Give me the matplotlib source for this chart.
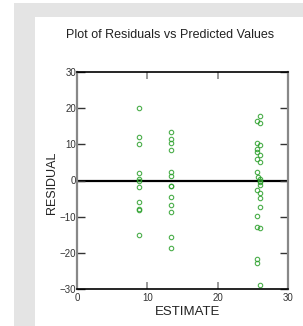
import numpy as np
import matplotlib.pyplot as plt
from matplotlib.patches import Rectangle

# predicted values (ESTIMATE) and residuals
est_a = [8.75] * 11
res_a = [20, 12, 10, 2, 0.3, 0, -1.9, -6, -8, -8.2, -15]

est_b = [13.4] * 13
res_b = [13.5, 11.5, 10.5, 8.5, 2.3, 1.3, -1.5, -1.6, -4.6, -6.7, -8.7, -15.7, -18.7]

est_c = [26.0, 25.6, 26.0, 25.6, 26.0, 25.6, 25.6, 26.0, 25.6, 26.0, 25.6, 25.8, 26.0,
         26.0, 26.0, 26.0, 25.6, 26.0, 26.0, 26.0, 25.6, 25.6, 26.0, 25.6, 25.6, 26.0]
res_c = [17.9, 16.4, 16.0, 10.3, 9.9, 8.7, 8.0, 7.0, 6.0, 5.2, 2.3, 1.0, 0.3,
         -0.2, -0.5, -1.2, -2.6, -3.5, -4.9, -7.2, -9.7, -12.8, -13.1, -21.8, -22.9, -29.0]

x_ticks = [0, 10, 20, 30]
y_ticks = [-30, -20, -10, 0, 10, 20, 30]

plt.rcParams['font.family'] = ['Liberation Sans', 'DejaVu Sans']

fig = plt.figure(figsize=(3.03, 3.26), dpi=100)
fig.patch.set_facecolor('white')

# gray L-shaped frame behind the plot panel
gray = '#e4e4e4'
fig.patches.append(Rectangle((14 / 303, 0), 21 / 303, 1 - 3 / 326, transform=fig.transFigure,
                             facecolor=gray, edgecolor='none', zorder=0))
fig.patches.append(Rectangle((14 / 303, 1 - 17 / 326), 1, 14 / 326, transform=fig.transFigure,
                             facecolor=gray, edgecolor='none', zorder=0))

ax = fig.add_axes([77 / 303, 1 - 289 / 326, 211 / 303, 217 / 326])

est = est_a + est_b + est_c
res = res_a + res_b + res_c
ax.plot(est, res, 'o', markerfacecolor='none', markeredgecolor='#2ca02c',
        markersize=3.2, markeredgewidth=0.8, alpha=0.85)
ax.axhline(0, color='black', lw=1.6, zorder=1)

ax.set_xlim(0, 30)
ax.set_ylim(-30, 30)
ax.set_xticks(x_ticks)
ax.set_yticks(y_ticks)
ax.tick_params(axis='y', direction='in', length=6, width=1, color='#333333',
               right=True, labelsize=7, labelcolor='#333333', pad=0.5)
ax.tick_params(axis='x', direction='in', length=5, width=1.2, color='#888888',
               top=True, labelsize=7, labelcolor='#333333', pad=3)

for s in ['left', 'right']:
    ax.spines[s].set_color('#888888')
    ax.spines[s].set_linewidth(1.6)
for s in ['top', 'bottom']:
    ax.spines[s].set_color('black')
    ax.spines[s].set_linewidth(1.2)

ax.set_xlabel('ESTIMATE', fontsize=9.5, color='#222222')
ax.xaxis.set_label_coords(0.526, -0.08)
ax.set_ylabel('RESIDUAL', fontsize=9, color='#222222')
ax.yaxis.set_label_coords(-0.09, 0.49)
fig.text(170 / 303, 1 - 35 / 326, 'Plot of Residuals vs Predicted Values',
         ha='center', va='center', fontsize=9, color='#222222')

fig.savefig('out.png', dpi=100)
